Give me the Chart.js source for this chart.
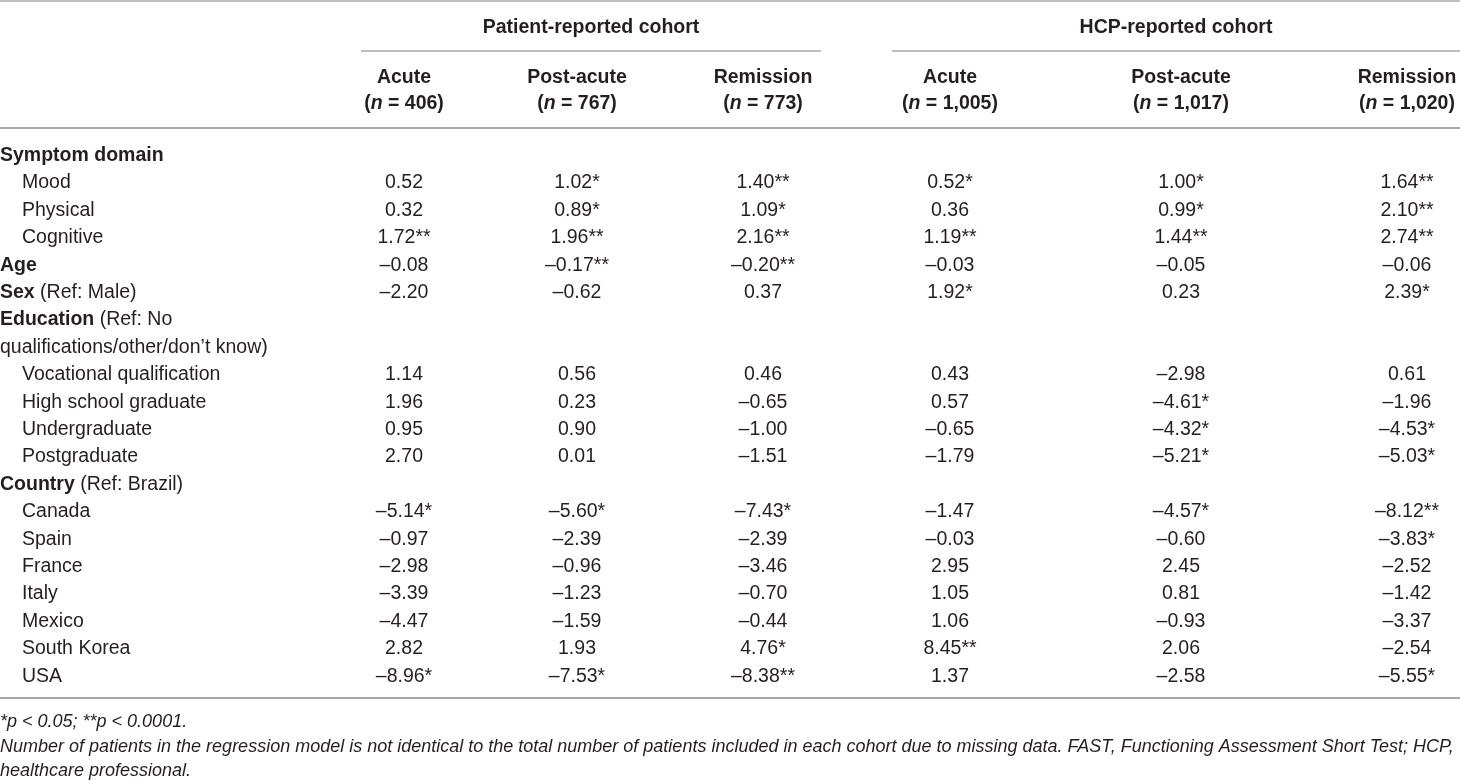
<!DOCTYPE html>
<html>
<head>
<meta charset="utf-8">
<script src="https://cdn.jsdelivr.net/npm/chart.js@4/dist/chart.umd.min.js"></script>
<style>
  html, body { margin: 0; padding: 0; background: #fff; }
  #wrap { width: 1460px; height: 781px; position: relative; }
</style>
</head>
<body>
<div id="wrap"><canvas id="table"></canvas></div>
<script>
// row labels: bold part, regular part, indent level
const rowTitles = ["Symptom domain", "Mood", "Physical", "Cognitive", "Age", "Sex", "Education", "",
    "Vocational qualification", "High school graduate", "Undergraduate", "Postgraduate",
    "Country", "Canada", "Spain", "France", "Italy", "Mexico", "South Korea", "USA"];
const rowRefs = ["", "", "", "", "", " (Ref: Male)", " (Ref: No", "qualifications/other/don\u2019t know)",
    "", "", "", "", " (Ref: Brazil)", "", "", "", "", "", "", ""];
const rowLevels = [0, 1, 1, 1, 0, 0, 0, 0, 1, 1, 1, 1, 0, 1, 1, 1, 1, 1, 1, 1];

const cohorts = ["Patient-reported cohort", "HCP-reported cohort"];
const phases = ["Acute", "Post-acute", "Remission", "Acute", "Post-acute", "Remission"];
const sampleSizes = ["406", "767", "773", "1,005", "1,017", "1,020"];

// regression coefficients per column (null = no value in that row)
const patientAcute = [null, 0.52, 0.32, 1.72, -0.08, -2.20, null, null, 1.14, 1.96, 0.95, 2.70,
    null, -5.14, -0.97, -2.98, -3.39, -4.47, 2.82, -8.96];
const patientPost = [null, 1.02, 0.89, 1.96, -0.17, -0.62, null, null, 0.56, 0.23, 0.90, 0.01,
    null, -5.60, -2.39, -0.96, -1.23, -1.59, 1.93, -7.53];
const patientRemission = [null, 1.40, 1.09, 2.16, -0.20, 0.37, null, null, 0.46, -0.65, -1.00, -1.51,
    null, -7.43, -2.39, -3.46, -0.70, -0.44, 4.76, -8.38];
const hcpAcute = [null, 0.52, 0.36, 1.19, -0.03, 1.92, null, null, 0.43, 0.57, -0.65, -1.79,
    null, -1.47, -0.03, 2.95, 1.05, 1.06, 8.45, 1.37];
const hcpPost = [null, 1.00, 0.99, 1.44, -0.05, 0.23, null, null, -2.98, -4.61, -4.32, -5.21,
    null, -4.57, -0.60, 2.45, 0.81, -0.93, 2.06, -2.58];
const hcpRemission = [null, 1.64, 2.10, 2.74, -0.06, 2.39, null, null, 0.61, -1.96, -4.53, -5.03,
    null, -8.12, -3.83, -2.52, -1.42, -3.37, -2.54, -5.55];

// significance stars per column
const patientAcuteSig = ["", "", "", "**", "", "", "", "", "", "", "", "", "", "*", "", "", "", "", "", "*"];
const patientPostSig = ["", "*", "*", "**", "**", "", "", "", "", "", "", "", "", "*", "", "", "", "", "", "*"];
const patientRemissionSig = ["", "**", "*", "**", "**", "", "", "", "", "", "", "", "", "*", "", "", "", "", "*", "**"];
const hcpAcuteSig = ["", "*", "", "**", "", "*", "", "", "", "", "", "", "", "", "", "", "", "", "**", ""];
const hcpPostSig = ["", "*", "*", "**", "", "", "", "", "", "*", "*", "*", "", "*", "", "", "", "", "", ""];
const hcpRemissionSig = ["", "**", "**", "**", "", "*", "", "", "", "", "*", "*", "", "**", "*", "", "", "", "", "*"];

const footnotes = [
    "*p < 0.05; **p < 0.0001.",
    "Number of patients in the regression model is not identical to the total number of patients included in each cohort due to missing data. FAST, Functioning Assessment Short Test; HCP,",
    "healthcare professional."
];

const columns = [patientAcute, patientPost, patientRemission, hcpAcute, hcpPost, hcpRemission];
const sigs = [patientAcuteSig, patientPostSig, patientRemissionSig, hcpAcuteSig, hcpPostSig, hcpRemissionSig];

// layout (pixels)
const colX = [404, 577, 763, 950, 1181, 1407];
const cohortSpans = [[361, 821], [892, 1460]];
const FONT = "'Liberation Sans', Arial, Helvetica, sans-serif";
const INK = "#231f20";
const RULE = "#a9a9a9";

const fmt = (v) => (v < 0 ? "\u2013" : "") + Math.abs(v).toFixed(2);

const tablePlugin = {
    id: "tableText",
    afterDatasetsDraw(chart) {
        const ctx = chart.ctx;
        const xs = chart.scales.x;
        const ys = chart.scales.y;
        ctx.save();
        ctx.fillStyle = INK;
        ctx.textBaseline = "alphabetic";

        // rules
        const rule = (x1, x2, y, w) => {
            ctx.strokeStyle = RULE;
            ctx.lineWidth = w;
            ctx.beginPath();
            ctx.moveTo(x1, y);
            ctx.lineTo(x2, y);
            ctx.stroke();
        };
        rule(0, 1460, 1, 1.5);
        cohortSpans.forEach((s) => rule(xs.getPixelForValue(s[0]), xs.getPixelForValue(s[1]), 51, 1.5));
        rule(0, 1460, 128, 2);
        rule(0, 1460, 698, 2);

        // cohort headings
        ctx.font = "bold 19.5px " + FONT;
        ctx.textAlign = "center";
        cohorts.forEach((c, i) => {
            const mid = (xs.getPixelForValue(cohortSpans[i][0]) + xs.getPixelForValue(cohortSpans[i][1])) / 2;
            ctx.fillText(c, mid, 33);
        });

        // column headings
        phases.forEach((p, i) => {
            const x = xs.getPixelForValue(colX[i]);
            ctx.font = "bold 19.5px " + FONT;
            ctx.textAlign = "center";
            ctx.fillText(p, x, 83);
            const pre = "(";
            const ital = "n";
            const post = " = " + sampleSizes[i] + ")";
            const wPre = ctx.measureText(pre).width;
            const wPost = ctx.measureText(post).width;
            ctx.font = "italic bold 19.5px " + FONT;
            const wIt = ctx.measureText(ital).width;
            let left = x - (wPre + wIt + wPost) / 2;
            ctx.textAlign = "left";
            ctx.font = "bold 19.5px " + FONT;
            ctx.fillText(pre, left, 109);
            ctx.font = "italic bold 19.5px " + FONT;
            ctx.fillText(ital, left + wPre, 109);
            ctx.font = "bold 19.5px " + FONT;
            ctx.fillText(post, left + wPre + wIt, 109);
        });

        // row labels
        rowTitles.forEach((t, i) => {
            const y = ys.getPixelForValue(i);
            let x = rowLevels[i] ? 22 : 0;
            ctx.textAlign = "left";
            ctx.font = (rowLevels[i] ? "" : "bold ") + "19.5px " + FONT;
            ctx.fillText(t, x, y);
            x += ctx.measureText(t).width;
            ctx.font = "19.5px " + FONT;
            ctx.fillText(rowRefs[i], x, y);
        });

        // cells, placed on the dataset points
        ctx.font = "19.5px " + FONT;
        ctx.textAlign = "center";
        chart.data.datasets.forEach((ds, d) => {
            chart.getDatasetMeta(d).data.forEach((pt, j) => {
                const raw = ds.data[j];
                ctx.fillText(fmt(raw.v) + raw.s, pt.x, pt.y);
            });
        });

        // footnotes
        ctx.textAlign = "left";
        ctx.font = "italic 18px " + FONT;
        footnotes.forEach((f, i) => ctx.fillText(f, 0, 727 + i * 24.5));
        ctx.restore();
    }
};

const datasets = columns.map((col, c) => ({
    label: phases[c],
    data: col.map((v, i) => (v === null ? null : { x: colX[c], y: i, v: v, s: sigs[c][i] })).filter((p) => p),
    pointRadius: 0,
    pointHoverRadius: 0
}));

new Chart(document.getElementById("table"), {
    type: "scatter",
    data: { datasets: datasets },
    options: {
        responsive: true,
        maintainAspectRatio: false,
        animation: false,
        events: [],
        layout: { padding: { left: 0, right: 0, top: 161, bottom: 781 - 161 - 27.4 * 19 } },
        scales: {
            x: { type: "linear", min: 0, max: 1460, display: false },
            y: { type: "linear", min: 0, max: 19, reverse: true, display: false }
        },
        plugins: {
            legend: { display: false },
            tooltip: { enabled: false }
        }
    },
    plugins: [tablePlugin]
});
</script>
</body>
</html>
